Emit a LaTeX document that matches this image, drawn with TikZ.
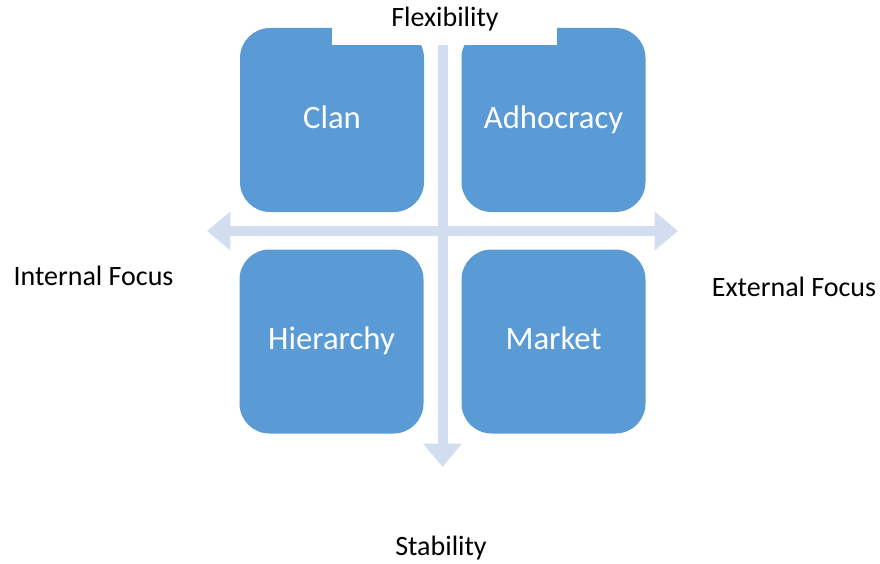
\documentclass[tikz,border=0pt]{standalone}
\usepackage{fontspec}
\setmainfont{Carlito}
\usetikzlibrary{arrows.meta}
\definecolor{quadblue}{HTML}{5B9BD5}
\definecolor{axisblue}{HTML}{D2DDEF}
\tikzset{
  quadrant/.style={fill=quadblue, rounded corners=22.5pt, minimum width=138pt,
    minimum height=138pt, inner sep=0pt, text height=15pt, text depth=3pt,
    text=white, font=\fontsize{24.5}{28}\selectfont},
  axis/.style={draw=axisblue, line width=7.5pt,
    arrows={-Triangle[width=28pt, length=17.5pt]}},
  axislabel/.style={font=\fontsize{21}{25}\selectfont, inner sep=0pt}
}
\begin{document}
\begin{tikzpicture}[x=0.75pt, y=-0.75pt]
  \useasboundingbox (0,0) rectangle (880,563);
  % the four culture types
  \node[quadrant] (clan) at (332,120) {Clan};
  \node[quadrant] (adhocracy) at (553.5,120) {Adhocracy};
  \node[quadrant] (hierarchy) at (331.5,341.5) {Hierarchy};
  \node[quadrant] (market) at (553.5,341.5) {Market};
  % top label sits on a white strip
  \fill[white] (332,0) rectangle (557,45);
  \node[axislabel] (flex) at (445,19) {Flexibility};
  \node[axislabel] (stab) at (441,548) {Stability};
  \node[axislabel] (internal) at (93.5,276) {Internal Focus};
  \node[axislabel] (external) at (794,287) {External Focus};
  % axes
  \coordinate (vtop) at (442.5,45);
  \coordinate (vbot) at (442.5,467);
  \coordinate (hleft) at (207,231);
  \coordinate (hright) at (678,231);
  \draw[axis] (vtop) -- (vbot);
  \draw[axis, arrows={Triangle[width=28pt, length=17.5pt]-Triangle[width=28pt, length=17.5pt]}] (hleft) -- (hright);
\end{tikzpicture}
\end{document}
